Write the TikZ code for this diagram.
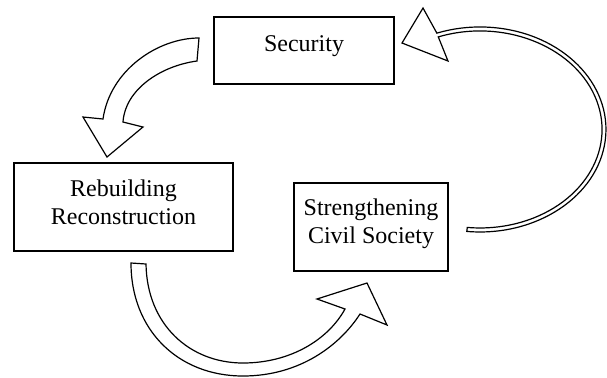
\documentclass[tikz,border=0pt]{standalone}
\usepackage{fontspec}
\setmainfont{Liberation Serif}
\newfontfamily\tnr{Liberation Serif}
\begin{document}
\begin{tikzpicture}[x=0.5pt,y=0.5pt,
  box/.style={draw, line width=0.8pt, inner sep=0pt},
  lbl/.style={font=\tnr\fontsize{12}{14}\selectfont, anchor=base, inner sep=0pt},
  blockarrow/.style={draw, fill=white, line width=0.6pt, line join=miter}]
\useasboundingbox (0,0) rectangle (607,-377);
% boxes
\node[box, minimum width=90pt, minimum height=33.5pt] (sec) at (304,-50.5) {};
\node[box, minimum width=109.5pt, minimum height=44pt] (reb) at (123.5,-207) {};
\node[box, minimum width=77pt, minimum height=44pt] (civ) at (371,-227) {};
% labels
\node[lbl] (secA) at (304,-51) {Security};
\node[lbl] (rebA) at (123.5,-196) {Rebuilding};
\node[lbl] (rebB) at (123.5,-224) {Reconstruction};
\node[lbl] (civA) at (371,-215) {Strengthening};
\node[lbl] (civB) at (371,-243) {Civil Society};
% arrow: Security -> Rebuilding
\draw[blockarrow] (199,-38) .. controls (158,-38) and (110,-70) .. (103,-119)
  -- (83,-117) -- (107,-157) -- (143,-127) -- (123,-122)
  .. controls (125,-90) and (160,-66) .. (197,-61) -- cycle;
% arrow: Rebuilding -> Civil Society
\draw[blockarrow] (131,-263) .. controls (131,-330) and (178,-376) .. (243,-376)
  .. controls (300,-376) and (340,-345) .. (360,-314)
  -- (387,-325) -- (367,-283) -- (317,-299) -- (345,-309)
  .. controls (328,-340) and (290,-363) .. (243,-363)
  .. controls (190,-363) and (147,-325) .. (146,-264) -- cycle;
% arrow: Civil Society -> Security
\draw[blockarrow] (466.8,-231.4) arc[start angle=-96, end angle=110, x radius=126, y radius=102.5]
  -- (423,-8) -- (402,-43) -- (448,-61) -- (438.3,-36.9)
  arc[start angle=110, end angle=-96, x radius=122, y radius=98.5] -- cycle;
\end{tikzpicture}
\end{document}
